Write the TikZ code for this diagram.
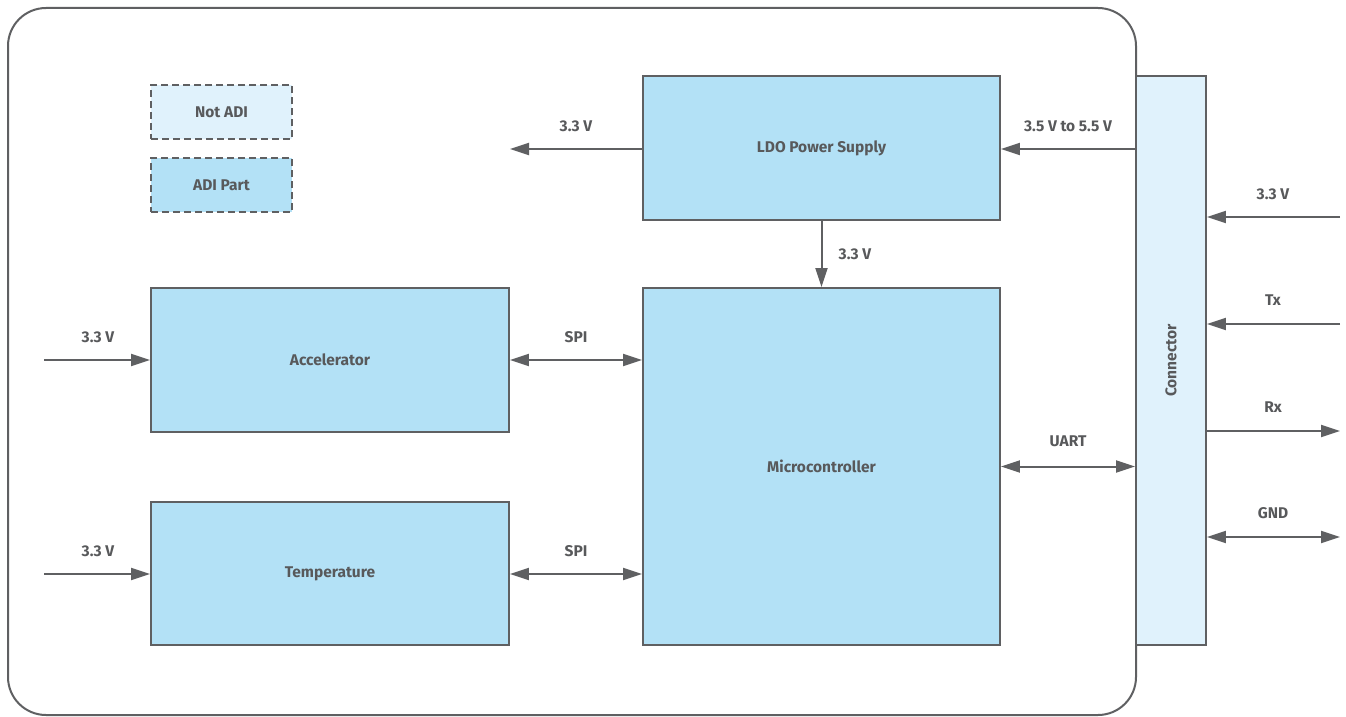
\documentclass[tikz,border=0pt]{standalone}
\usepackage{fontspec}
\setmainfont{Fira Sans}
\usetikzlibrary{arrows.meta}
\definecolor{lineg}{HTML}{5F6062}
\definecolor{txtg}{HTML}{58595B}
\definecolor{adiblue}{HTML}{B3E1F6}
\definecolor{lightblue}{HTML}{E0F2FC}
\tikzset{
  blk/.style={draw=lineg, line width=1.8pt, fill=adiblue, inner sep=0pt},
  lbl/.style={text=txtg, font=\fontsize{15.5}{17}\selectfont\bfseries, inner sep=0pt},
  conn/.style={draw=lineg, line width=2pt},
  tip/.style={-{Triangle[length=19pt,width=12pt]}},
  tips/.style={{Triangle[length=19pt,width=12pt]}-{Triangle[length=19pt,width=12pt]}},
}
\begin{document}
\begin{tikzpicture}[x=1pt,y=-1pt]
\useasboundingbox (0,0) rectangle (1346,717);
% outer board
\draw[draw=lineg, line width=2pt, rounded corners=38pt] (8,8) rectangle (1136,715);
% legend
\node[blk, dashed, dash pattern=on 7pt off 4pt, fill=lightblue, minimum width=141pt, minimum height=54pt] (notadi) at (221.5,112) {};
\node[lbl] at (notadi) {Not ADI};
\node[blk, dashed, dash pattern=on 7pt off 4pt, minimum width=141pt, minimum height=54pt] (adipart) at (221.5,185) {};
\node[lbl] at (adipart) {ADI Part};
% blocks
\node[blk, minimum width=357pt, minimum height=144pt] (ldo) at (821.5,148) {};
\node[lbl] at (ldo) {LDO Power Supply};
\node[blk, minimum width=357pt, minimum height=357pt] (mcu) at (821.5,466.5) {};
\node[lbl] at (mcu) {Microcontroller};
\node[blk, minimum width=358pt, minimum height=144pt] (acc) at (330,360) {};
\node[lbl] at (acc) {Accelerator};
\node[blk, minimum width=358pt, minimum height=143pt] (temp) at (330,573.5) {};
\node[lbl] at (temp) {Temperature};
\node[blk, fill=lightblue, minimum width=70pt, minimum height=569pt] (con) at (1171,360.5) {};
\node[lbl, rotate=90] at (con) {Connector};
% free-end coordinates
\coordinate (ldoout) at (510,149);
\coordinate (accin) at (44,360);
\coordinate (tempin) at (44,574);
\coordinate (r33) at (1340,217);
\coordinate (rtx) at (1340,324);
\coordinate (rrx) at (1340,431);
\coordinate (rgnd) at (1340,537);
% connectors
\draw[conn, tip] (ldo.west |- ldoout) -- (ldoout);
\node[lbl] at (576,126) {3.3 V};
\draw[conn, tip] (con.west |- 0,149) -- (ldo.east |- 0,149);
\node[lbl] at (1068,126) {3.5 V to 5.5 V};
\draw[conn, tip] (ldo.south) -- (mcu.north);
\node[lbl] at (855,254) {3.3 V};
\draw[conn, tip] (accin) -- (acc.west |- accin);
\node[lbl] at (98,337) {3.3 V};
\draw[conn, tips] (acc.east) -- (mcu.west |- acc.east);
\node[lbl] at (576,337) {SPI};
\draw[conn, tip] (tempin) -- (temp.west |- tempin);
\node[lbl] at (98,551) {3.3 V};
\draw[conn, tips] (temp.east |- 0,574) -- (mcu.west |- 0,574);
\node[lbl] at (576,551) {SPI};
\draw[conn, tips] (mcu.east) -- (con.west |- mcu.east);
\node[lbl] at (1068,441) {UART};
\draw[conn, tip] (r33) -- (con.east |- r33);
\node[lbl] at (1273,194) {3.3 V};
\draw[conn, tip] (rtx) -- (con.east |- rtx);
\node[lbl] at (1273,300) {Tx};
\draw[conn, tip] (con.east |- rrx) -- (rrx);
\node[lbl] at (1273,407) {Rx};
\draw[conn, tips] (con.east |- rgnd) -- (rgnd);
\node[lbl] at (1273,513) {GND};
\end{tikzpicture}
\end{document}
